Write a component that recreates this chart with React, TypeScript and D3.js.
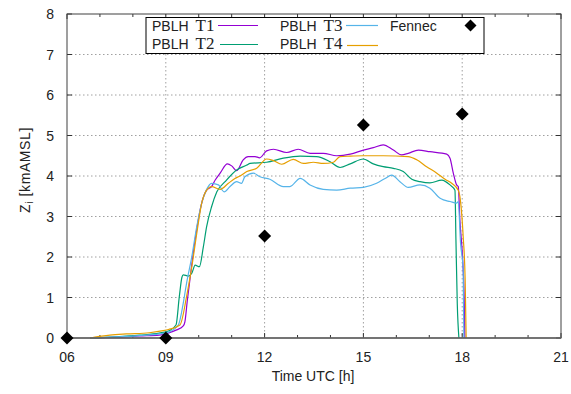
import React from "react";
import * as d3 from "d3";

const xTickLabels = ["06", "09", "12", "15", "18", "21"];
const yTickLabels = ["0", "1", "2", "3", "4", "5", "6", "7", "8"];

const t1Hours = [6.7, 7.5, 8.2, 8.8, 9.07, 9.33, 9.53, 9.58, 9.65, 9.73, 9.89, 10.09, 10.24, 10.39, 10.5, 10.65, 10.87, 11.0, 11.15, 11.35, 11.5, 11.71, 11.85, 12.06, 12.27, 12.67, 13.02, 13.38, 13.78, 14.19, 14.6, 15.0, 15.3, 15.6, 15.91, 16.16, 16.36, 16.67, 17.02, 17.53, 17.63, 17.73, 17.83, 17.88, 17.93, 18.02, 18.06, 18.08];
const t1Values = [0, 0.02, 0.05, 0.07, 0.12, 0.2, 0.3, 0.4, 0.9, 1.43, 2.42, 3.33, 3.65, 3.74, 3.9, 4.07, 4.3, 4.25, 4.13, 4.4, 4.48, 4.48, 4.45, 4.62, 4.66, 4.58, 4.66, 4.56, 4.56, 4.5, 4.54, 4.64, 4.7, 4.77, 4.64, 4.52, 4.56, 4.64, 4.6, 4.54, 4.44, 4.07, 3.78, 3.74, 2.91, 1.85, 1.0, 0];

const t2Hours = [6.7, 7.5, 8.2, 8.8, 9.1, 9.31, 9.41, 9.49, 9.53, 9.68, 9.79, 9.89, 10.02, 10.14, 10.24, 10.39, 10.55, 10.8, 11.15, 11.46, 11.56, 12.06, 12.57, 13.08, 13.58, 13.99, 14.29, 14.6, 15.0, 15.3, 15.6, 15.91, 16.21, 16.47, 16.72, 17.02, 17.38, 17.63, 17.78, 17.81, 17.85, 17.9];
const t2Values = [0, 0.03, 0.07, 0.12, 0.18, 0.32, 1.02, 1.5, 1.56, 1.53, 1.6, 1.8, 1.76, 2.25, 2.75, 3.24, 3.61, 3.86, 4.15, 4.27, 4.31, 4.34, 4.44, 4.49, 4.48, 4.35, 4.21, 4.3, 4.42, 4.3, 4.23, 4.19, 4.11, 3.92, 3.86, 3.83, 3.9, 3.78, 3.65, 2.42, 0.86, 0];

const t3Hours = [6.7, 7.5, 8.2, 8.8, 9.1, 9.38, 9.53, 9.63, 9.79, 9.94, 10.09, 10.24, 10.39, 10.6, 10.77, 10.95, 11.15, 11.3, 11.4, 11.66, 11.86, 12.16, 12.57, 12.77, 13.08, 13.38, 13.78, 14.19, 14.6, 15.0, 15.4, 15.66, 15.86, 16.11, 16.36, 16.72, 17.02, 17.33, 17.43, 17.63, 17.83, 17.88, 17.95, 18.03, 18.05];
const t3Values = [0, 0.03, 0.06, 0.1, 0.15, 0.32, 0.86, 1.35, 2.01, 2.75, 3.33, 3.67, 3.82, 3.78, 3.61, 3.74, 3.86, 3.82, 3.98, 4.07, 3.98, 3.92, 3.74, 3.74, 3.94, 3.78, 3.67, 3.65, 3.7, 3.72, 3.82, 3.94, 4.02, 3.86, 3.72, 3.78, 3.7, 3.45, 3.41, 3.37, 3.33, 3.37, 2.34, 1.68, 0];

const t4Hours = [6.7, 7.3, 7.8, 8.5, 8.92, 9.08, 9.43, 9.63, 9.79, 9.94, 10.09, 10.24, 10.39, 10.65, 10.9, 11.1, 11.25, 11.46, 11.76, 12.06, 12.27, 12.52, 12.87, 13.18, 13.48, 13.78, 14.09, 14.29, 14.6, 15.0, 15.6, 16.36, 16.62, 16.92, 17.23, 17.48, 17.68, 17.88, 17.93, 18.03, 18.09, 18.12];
const t4Values = [0, 0.07, 0.1, 0.13, 0.18, 0.21, 0.32, 1.02, 1.76, 2.58, 3.33, 3.65, 3.74, 3.67, 3.82, 3.94, 4.0, 4.11, 4.19, 4.42, 4.38, 4.29, 4.41, 4.31, 4.34, 4.31, 4.34, 4.48, 4.49, 4.5, 4.5, 4.48, 4.4, 4.23, 4.07, 3.92, 3.82, 3.65, 3.49, 2.5, 1.43, 0];

const fennecHours = [6, 9, 12, 15, 18];
const fennecValues = [0, 0, 2.52, 5.26, 5.53];

const seriesNames = ["T1", "T2", "T3", "T4"];
const seriesColors = ["#9400d3", "#009e73", "#56b4e9", "#e69f00"];

const L = 67, R = 561, T = 14, B = 338;
const SANS = "'Liberation Sans', Arial, sans-serif";
const SERIF = "'Liberation Serif', 'Times New Roman', serif";

export default function App() {
  const x = d3.scaleLinear().domain([6, 21]).range([L, R]);
  const y = d3.scaleLinear().domain([0, 8]).range([B, T]);
  const line = d3
    .line<[number, number]>()
    .x((d) => x(d[0]))
    .y((d) => y(d[1]))
    .curve(d3.curveMonotoneX);

  const allSeries = [
    [t1Hours, t1Values],
    [t2Hours, t2Values],
    [t3Hours, t3Values],
    [t4Hours, t4Values],
  ].map(([h, v]) => h.map((hh, i) => [hh, v[i]] as [number, number]));

  const xMajor = xTickLabels.map((s) => +s);
  const xMinor = d3.range(6, 22, 1);
  const yMajor = yTickLabels.map((s) => +s);

  const diamond = (cx: number, cy: number, r = 6.5) =>
    `M${cx},${cy - r}L${cx + r},${cy}L${cx},${cy + r}L${cx - r},${cy}Z`;

  const legendRows = [
    { name: "T1", tx: 152, lx1: 218, lx2: 258, y: 31, ly: 25.5, c: seriesColors[0] },
    { name: "T2", tx: 152, lx1: 220, lx2: 258, y: 48.5, ly: 44.5, c: seriesColors[1] },
    { name: "T3", tx: 280, lx1: 346, lx2: 378, y: 31, ly: 25.5, c: seriesColors[2] },
    { name: "T4", tx: 280, lx1: 347, lx2: 378, y: 48.5, ly: 45.5, c: seriesColors[3] },
  ];

  return (
    <svg
      width={571}
      height={394}
      style={{ position: "absolute", left: 0, top: 0, background: "#fff" }}
    >
      <rect x={0} y={0} width={571} height={394} fill="#fff" />
      {/* grid */}
      {xMajor.slice(1, -1).map((h) => (
        <line key={"gx" + h} x1={x(h)} x2={x(h)} y1={T} y2={B} stroke="#a0a0a0" strokeDasharray="1.5,2.5" strokeWidth={1} />
      ))}
      {yMajor.slice(1, -1).map((v) => (
        <line key={"gy" + v} x1={L} x2={R} y1={y(v)} y2={y(v)} stroke="#a0a0a0" strokeDasharray="1.5,2.5" strokeWidth={1} />
      ))}
      {/* ticks */}
      {xMinor.map((h) => {
        const len = h % 3 === 0 ? 5 : 3;
        return (
          <g key={"xt" + h}>
            <line x1={x(h)} x2={x(h)} y1={B} y2={B - len} stroke="#333" />
            <line x1={x(h)} x2={x(h)} y1={T} y2={T + len} stroke="#333" />
          </g>
        );
      })}
      {yMajor.map((v) => (
        <g key={"yt" + v}>
          <line x1={L} x2={L + 5} y1={y(v)} y2={y(v)} stroke="#333" />
          <line x1={R} x2={R - 5} y1={y(v)} y2={y(v)} stroke="#333" />
        </g>
      ))}
      {/* series */}
      {allSeries.map((d, i) => (
        <path key={"s" + i} d={line(d) || ""} fill="none" stroke={seriesColors[i]} strokeWidth={1.2} strokeLinejoin="round" />
      ))}
      {/* frame */}
      <rect x={L} y={T} width={R - L} height={B - T} fill="none" stroke="#404040" strokeWidth={1} />
      <line x1={L} x2={R} y1={B} y2={B} stroke="#666" strokeWidth={1.6} />
      {/* fennec */}
      {fennecHours.map((h, i) => (
        <path key={"f" + i} d={diamond(x(h), y(fennecValues[i]))} fill="#000" />
      ))}
      {/* tick labels */}
      {xTickLabels.map((s) => (
        <text key={"xl" + s} x={x(+s)} y={362} textAnchor="middle" fontFamily={SANS} fontSize={14} fill="#222">
          {s}
        </text>
      ))}
      {yTickLabels.map((s) => (
        <text key={"yl" + s} x={54} y={y(+s) + 5} textAnchor="end" fontFamily={SANS} fontSize={14} fill="#222">
          {s}
        </text>
      ))}
      {/* axis titles */}
      <text x={313} y={381} textAnchor="middle" fontFamily={SANS} fontSize={14} fill="#222">
        Time UTC [h]
      </text>
      <g transform="translate(30,170) rotate(-90)">
        <text x={0} y={0} textAnchor="middle" fontFamily={SANS} fontSize={14} fill="#222" letterSpacing={0.6}>
          <tspan>Z</tspan>
          <tspan fontSize={10} dy={3}>i</tspan>
          <tspan dy={-3}> [kmAMSL]</tspan>
        </text>
      </g>
      {/* legend */}
      <rect x={146} y={17.5} width={338} height={36} fill="#fff" stroke="#000" strokeWidth={1} />
      {legendRows.map((r) => (
        <g key={"lg" + r.name}>
          <text x={r.tx} y={r.y} fontFamily={SANS} fontSize={14} fill="#222">
            PBLH
            <tspan fontFamily={SERIF} fontSize={17} dx={7}>{r.name}</tspan>
          </text>
          <line x1={r.lx1} x2={r.lx2} y1={r.ly} y2={r.ly} stroke={r.c} strokeWidth={1.2} />
        </g>
      ))}
      <text x={390} y={31} fontFamily={SANS} fontSize={14} fill="#222">Fennec</text>
      <path d={diamond(470.5, 25.5, 6)} fill="#000" />
    </svg>
  );
}
